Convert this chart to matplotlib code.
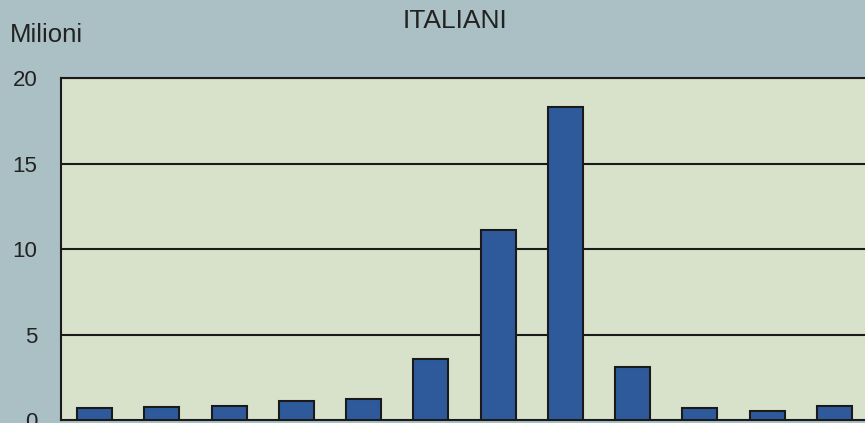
import numpy as np
import matplotlib.pyplot as plt

plt.rcParams["font.family"] = ["Liberation Sans", "DejaVu Sans"]

# approximate values (milioni)
positions = np.arange(12)
valori = [0.7, 0.75, 0.8, 1.1, 1.2, 3.55, 11.1, 18.3, 3.1, 0.7, 0.55, 0.8]
yticks = [0, 5, 10, 15, 20]

fig = plt.figure(figsize=(8.65, 4.23), dpi=100)
fig.patch.set_facecolor("#aac0c4")

ax = fig.add_axes([61 / 865, 3 / 423, 807 / 865, 342 / 423])
ax.set_facecolor("#d8e2cb")

ax.bar(positions, valori, width=0.52, color="#2e5a9c",
       edgecolor="#1a1a1a", linewidth=1.5, zorder=3)

ax.set_xlim(-0.5, 11.5)
ax.set_ylim(0, 20)
ax.set_yticks(yticks)
ax.set_yticklabels([str(v) for v in yticks], fontsize=16, color="#222222")
ax.set_xticks([])
ax.tick_params(axis="y", length=0, pad=17)

for v in yticks[1:]:
    ax.axhline(v, color="#1a1a1a", linewidth=1.5, zorder=2)

ax.spines["right"].set_visible(False)
for side in ["left", "top", "bottom"]:
    ax.spines[side].set_linewidth(1.5)
    ax.spines[side].set_color("#1a1a1a")

fig.text(10 / 865, 1 - 35 / 423, "Milioni", fontsize=18.5, color="#222222",
         va="center", ha="left")
fig.text(455 / 865, 1 - 21 / 423, "ITALIANI", fontsize=19, color="#222222",
         va="center", ha="center")

fig.savefig("out.png", dpi=100, facecolor=fig.get_facecolor())
